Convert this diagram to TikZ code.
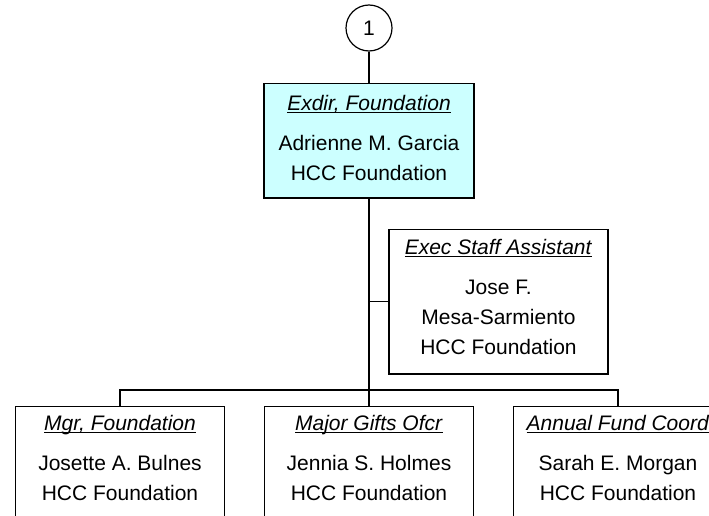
\documentclass[tikz,border=0pt]{standalone}
\usepackage{fontspec}
\setmainfont{Liberation Sans}
\usetikzlibrary{positioning}
\definecolor{headfill}{RGB}{204,255,255}
\newcommand{\roletitle}[1]{\rule{0pt}{15.3pt}\underline{\smash{\textit{#1}}}\\[10pt]}
\newcommand{\padbot}[1]{\rule[-#1]{0pt}{0pt}}
\tikzset{
  post/.style={draw, line width=1.2pt, fill=white, align=center, anchor=north,
               font=\fontsize{21}{30}\selectfont, inner xsep=2pt},
  head/.style={post, fill=headfill, minimum width=210pt, inner ysep=12pt},
  staff/.style={post, minimum width=219pt, inner ysep=10pt},
  report/.style={post, minimum width=209pt, inner ysep=9pt},
  pagecon/.style={circle, draw, line width=1.2pt, minimum size=46pt, inner sep=0pt,
                  font=\fontsize{21}{25}\selectfont},
  wire/.style={line width=1.2pt},
}

\begin{document}
\begin{tikzpicture}[x=1pt, y=-1pt]
  \useasboundingbox (0,0) rectangle (709,516);
  \clip (0,0) rectangle (709,516);
  % off-page connector and head of the unit
  \node[pagecon] (pg1) at (369,28) {1};
  \node[head] (exdir) at (369,83)
       {\roletitle{Exdir, Foundation}Adrienne M. Garcia\\HCC Foundation\padbot{5pt}};
  % staff position beside the trunk
  \node[staff] (asst) at (498.5,229)
       {\roletitle{Exec Staff Assistant}Jose F.\\Mesa-Sarmiento\\HCC Foundation\padbot{9pt}};
  % direct reports (run off the bottom of the page)
  \node[report] (mgr) at (120,406)
       {\roletitle{Mgr, Foundation}Josette A. Bulnes\\HCC Foundation\padbot{60pt}};
  \node[report] (gifts) at (369,406)
       {\roletitle{Major Gifts Ofcr}Jennia S. Holmes\\HCC Foundation\padbot{60pt}};
  \node[report] (fund) at (618,406)
       {\roletitle{Annual Fund Coord}Sarah E. Morgan\\HCC Foundation\padbot{60pt}};
  % lines
  \coordinate (bus) at (369,390);
  \draw[wire] (pg1) -- (exdir);
  \draw[wire] (exdir.south) -- (bus);
  \draw[wire] (exdir.south |- asst.west) -- (asst.west);
  \draw[wire] (mgr.north) |- (bus) -| (fund.north);
  \draw[wire] (bus) -- (gifts.north);
\end{tikzpicture}
\end{document}
